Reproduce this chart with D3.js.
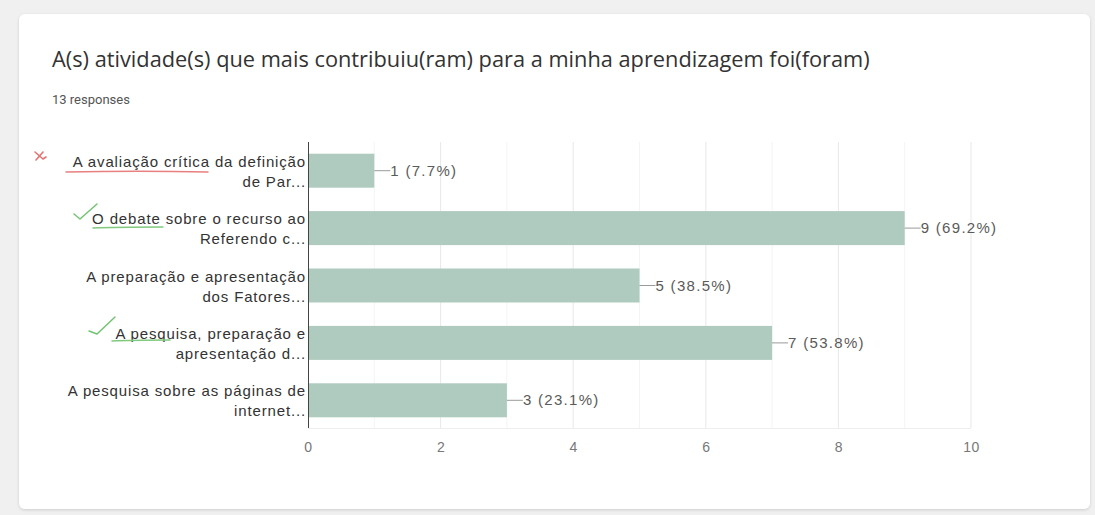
<!DOCTYPE html>
<html>
<head>
<meta charset="utf-8">
<script src="https://cdn.jsdelivr.net/npm/d3@7"></script>
<style>
  html, body { margin: 0; padding: 0; background: #f0f0f0; }
  svg { display: block; }
</style>
</head>
<body>
<svg id="chart" width="1095" height="515"></svg>
<script>
// Question, response count and answer options
const title = "A(s) atividade(s) que mais contribuiu(ram) para a minha aprendizagem foi(foram)";
const subtitle = "13 responses";
const categoryLines = [
  ["A avaliação crítica da definição", "de Par..."],
  ["O debate sobre o recurso ao", "Referendo c..."],
  ["A preparação e apresentação", "dos Fatores..."],
  ["A pesquisa, preparação e", "apresentação d..."],
  ["A pesquisa sobre as páginas de", "internet..."]
];
const counts = [1, 9, 5, 7, 3];
const percents = ["7.7%", "69.2%", "38.5%", "53.8%", "23.1%"];
const xTicks = [0, 2, 4, 6, 8, 10];
const xDomain = [0, 10];

const labelFont = "'Liberation Sans', Arial, sans-serif";
const svg = d3.select("#chart");

// card with a soft shadow
const defs = svg.append("defs");
const f = defs.append("filter").attr("id", "shadow").attr("x", "-5%").attr("y", "-5%").attr("width", "110%").attr("height", "110%");
f.append("feDropShadow").attr("dx", 0).attr("dy", 1).attr("stdDeviation", 1.5).attr("flood-color", "#000").attr("flood-opacity", 0.15);
svg.append("rect").attr("x", 19).attr("y", 14).attr("width", 1071).attr("height", 495)
  .attr("rx", 6).attr("fill", "#fff").attr("filter", "url(#shadow)");

// titles
const t = svg.append("text").attr("x", 52).attr("y", 67)
  .attr("font-family", "'Open Sans', sans-serif").attr("font-size", 18.5)
  .attr("fill", "#333").text(title);
// size the title to its printed width
const want = 818, got = t.node().getComputedTextLength();
t.attr("font-size", 18.5 * want / got);

svg.append("text").attr("x", 52).attr("y", 104)
  .attr("font-family", "Roboto, sans-serif").attr("font-size", 13)
  .attr("fill", "#555").text(subtitle);

// scales
const x = d3.scaleLinear().domain(xDomain).range([308, 971]);
const idx = d3.range(counts.length);
const y = d3.scaleBand().domain(idx).range([142, 429]).paddingInner(0.408).paddingOuter(0.204);

const plot = svg.append("g");

// gridlines at every unit; even ones are stronger
plot.selectAll("line.grid").data(d3.range(1, 11)).join("line")
  .attr("class", "grid")
  .attr("x1", d => x(d)).attr("x2", d => x(d))
  .attr("y1", 142).attr("y2", 428)
  .attr("stroke", d => d % 2 === 0 ? "#e8e8e8" : "#f4f4f4").attr("stroke-width", 1);
plot.append("line").attr("x1", 308).attr("x2", 971).attr("y1", 428.5).attr("y2", 428.5)
  .attr("stroke", "#eeeeee");

// bars
plot.selectAll("rect.bar").data(idx).join("rect")
  .attr("class", "bar")
  .attr("x", x(0)).attr("y", i => y(i))
  .attr("width", i => x(counts[i]) - x(0)).attr("height", y.bandwidth())
  .attr("fill", "#afcabe");

// value labels with leader lines
const lab = plot.selectAll("g.val").data(idx).join("g").attr("class", "val");
lab.append("line")
  .attr("x1", i => x(counts[i])).attr("x2", i => x(counts[i]) + 16)
  .attr("y1", i => y(i) + y.bandwidth() / 2).attr("y2", i => y(i) + y.bandwidth() / 2)
  .attr("stroke", "#9a9a9a");
lab.append("text")
  .attr("x", i => x(counts[i]) + 16).attr("y", i => y(i) + y.bandwidth() / 2 + 5)
  .attr("font-family", labelFont).attr("font-size", 15).attr("letter-spacing", 1.3)
  .attr("fill", "#5a5a5a").text(i => `${counts[i]} (${percents[i]})`);

// x axis
const xAxis = d3.axisBottom(x).tickValues(xTicks).tickSize(0).tickPadding(0);
const gx = svg.append("g").attr("transform", "translate(0,442)").call(xAxis);
gx.select(".domain").remove();
gx.selectAll("text").attr("font-family", labelFont)
  .attr("font-size", 14).attr("letter-spacing", 0.5).attr("fill", "#777").attr("dy", "0.71em");

// y axis: vertical line and two-line category labels
plot.append("line").attr("x1", 308.5).attr("x2", 308.5).attr("y1", 142).attr("y2", 428)
  .attr("stroke", "#444").attr("stroke-width", 1);
const yl = svg.append("g");
idx.forEach(i => {
  const cy = y(i) + y.bandwidth() / 2;
  const txt = yl.append("text")
    .attr("font-family", labelFont).attr("font-size", 15).attr("letter-spacing", 0.85)
    .attr("fill", "#333").attr("text-anchor", "end");
  categoryLines[i].forEach((ln, k) => {
    txt.append("tspan").attr("x", 306).attr("y", cy - 4 + k * 20).text(ln);
  });
});

// pen marks written over the labels
const marks = svg.append("g").attr("fill", "none").attr("stroke-linecap", "round").attr("stroke-linejoin", "round");
// red cross and underline on the first option
marks.append("path").attr("d", "M35,152 L43,159 M43,152 L36,160 M43,159 L46,157")
  .attr("stroke", "#e57373").attr("stroke-width", 1.6);
marks.append("path").attr("d", "M66,172 C110,171 165,171 208,172")
  .attr("stroke", "#e88080").attr("stroke-width", 1.5);
// green ticks and underlines
marks.append("path").attr("d", "M74,214 L80,219 L97,204")
  .attr("stroke", "#72c470").attr("stroke-width", 1.5);
marks.append("path").attr("d", "M93,228 C115,227 140,227 163,227")
  .attr("stroke", "#80c97e").attr("stroke-width", 1.4);
marks.append("path").attr("d", "M89,331 L97,334 L115,317")
  .attr("stroke", "#72c470").attr("stroke-width", 1.5);
marks.append("path").attr("d", "M112,341 C130,340 150,340 170,340")
  .attr("stroke", "#80c97e").attr("stroke-width", 1.4);
</script>
</body>
</html>
